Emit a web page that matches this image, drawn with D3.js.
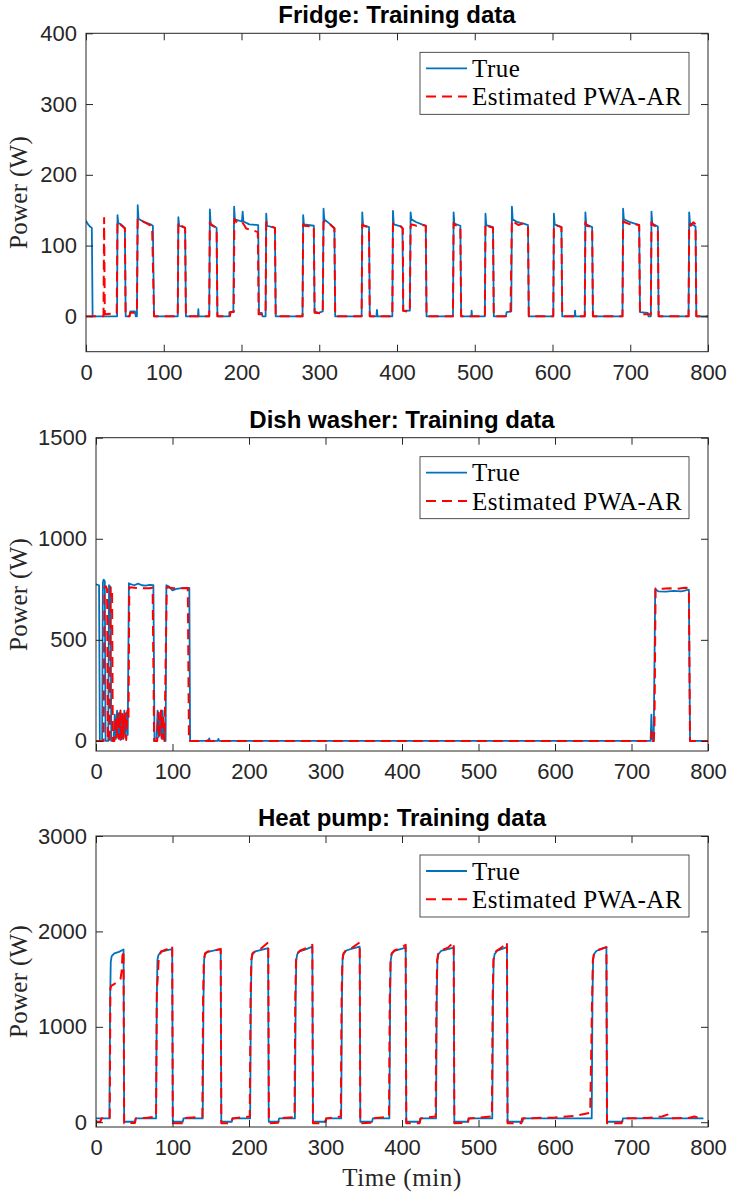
<!DOCTYPE html>
<html>
<head>
<meta charset="utf-8">
<script src="https://cdn.jsdelivr.net/npm/d3@7"></script>
<style>
  body { margin: 0; background: #fff; }
  .tick text { font-family: "Liberation Sans", Arial, Helvetica, sans-serif; font-size: 22px; fill: #262626; }
  .tick line { stroke: #262626; stroke-width: 1; }
</style>
</head>
<body>
<svg id="fig" width="729" height="1195"></svg>
<script>
// ---------- shared axis values ----------
const timeTicks = [0, 100, 200, 300, 400, 500, 600, 700, 800];
const fridgeTicks = [0, 100, 200, 300, 400];
const dishTicks = [0, 500, 1000, 1500];
const heatTicks = [0, 1000, 2000, 3000];
const seriesNames = ["True", "Estimated PWA-AR"];

// ---------- Fridge: [time (min), power (W)] ----------
const fridgeTrue = [
  [0,135],[2,131],[5,127],[7.5,125],[8.5,0],[40,0],[40.5,143],[41.5,132],[45,130],[50,125],[51,0],
  [56,0],[57,7],[63,7],[64,0],[65.5,0],[66.5,157],[67.5,138],[75,133],[83,130],[86,128],[87.5,0],
  [118,0],[118.8,140],[119.8,128],[127.5,125],[128.5,0],[144,0],[144.5,10],[145,0],
  [158.5,0],[159.3,151],[160.3,131],[168,125],[169,0],[184,0],[184.5,6],[189.5,6],
  [190.5,155],[191.5,137],[200.5,134],[201.5,148],[202.5,134],[210,130],[221.5,129],[222.5,5],[226,5],[227,0],
  [231,0],[231.8,145],[232.8,128],[243,125],[244,0],
  [278.5,0],[279.3,143],[280.3,130],[293,128],[294,7],[299,5],[304.5,7],[305.5,152],[306.5,137],[312,132],[319.5,125],[320.5,0],
  [354.5,0],[355.3,147],[356.3,129],[364,126],[365,0],[373.5,0],[374.2,9],[375,0],
  [394,0],[394.8,149],[395.8,130],[405,127],[407,125],[408,8],[416.5,8],[417.5,147],[418.5,137],[425,133],[432,130],[437,128],[438,0],
  [472,0],[472.8,147],[473.8,131],[481.5,128],[482.5,0],[495.5,0],[496,8],[496.5,0],
  [513,0],[513.8,145],[514.8,129],[523.5,126],[524.5,0],
  [540,0],[541,6],[547,7],[547.8,155],[548.8,137],[555,133],[563,131],[568.5,129],[569.5,0],
  [601,0],[601.8,145],[602.8,130],[611.5,126],[612.5,0],[628.5,0],[629,8],[629.5,0],
  [641.5,0],[642.3,147],[643.3,130],[651,126],[652,0],
  [690,0],[690.8,152],[691.8,137],[700,133],[711.5,129],[712.5,6],[722.5,5],[723.5,0],
  [726.5,0],[727.3,148],[728.3,131],[735.5,127],[736.5,0],
  [775,0],[775.8,147],[776.8,132],[784,127],[785,0],[800,0]
];
const fridgeEst = [
  [0,0],[22.5,0],[23.3,139],[24.2,3],[39.5,4],[40.5,134],[42,132],[46,128],[50,124],[51,0],
  [56,0],[57,5],[65.5,5],[66.5,139],[75,133],[85,127],[87.5,0],
  [118,0],[118.8,133],[120,130],[127.5,125],[128.5,0],
  [158.5,0],[159.3,133],[161,129],[168,125],[169,0],
  [185,0],[186,6],[190,6],[190.8,138],[193,134],[199,131],[201,133],[204,128],[206,124],[214,122],[221,119],[222,3],[231,3],
  [231.8,133],[233.5,129],[243,125],[244,0],
  [278.5,0],[279.3,130],[281,128],[293,127],[294,5],[304.5,4],[305.5,133],[308,135],[312,132],[319.5,124],[320.5,0],
  [354.5,0],[355.3,130],[357,128],[364,126],[365,0],
  [394,0],[394.8,131],[397,129],[405,127],[407.5,124],[408,8],[416.5,6],[417.5,127],[419,130],[425,128],[430,130],[437,128],[438,0],
  [472,0],[472.8,132],[475,129],[481.5,127],[482.5,0],
  [513,0],[513.8,131],[516,128],[523.5,125],[524.5,0],
  [540,0],[541,5],[546,7],[547.8,136],[552,132],[556,129],[562,131],[568.5,128],[569.5,0],
  [601,0],[601.8,129],[604,129],[611.5,126],[612.5,0],
  [641.5,0],[642.3,133],[644,128],[651,126],[652,0],
  [690,0],[690.8,134],[693,133],[700,130],[702,128],[705,130],[711.5,129],[712.5,3],[726.5,3],
  [727.3,133],[729,129],[735.5,126],[736.5,0],
  [775,0],[775.8,131],[778,128],[781,133],[784,130],[785,0],[800,0]
];

// ---------- Dish washer ----------
const dishTrue = [
  [0,775],[4,770],[5,0],[8,0],[9,785],[10,798],[11.5,790],[12.5,0],[16,0],[17,770],[19,760],[20,0],
  [23,0],[24.5,130],[26,10],[27.5,150],[29,15],[30.5,140],[32,5],[34,135],[35.5,10],[37,150],[38.5,20],[40,140],[41.5,30],
  [43,780],[45,775],[50,770],[55,778],[60,770],[65,768],[70,772],[75,770],[76.5,0],
  [79,0],[80.5,150],[82,20],[84,140],[85.5,15],[87,150],[88.5,10],[91,0],
  [92,770],[95,765],[100,745],[105,752],[115,757],[122,757],[123,0],
  [147,0],[148,12],[149,0],[159,0],[160,10],[161,0],
  [725,0],[726,130],[727,10],[729,0],[731,750],[735,740],[745,738],[755,742],[765,740],[775,748],[776.5,0],[800,0]
];
const dishEst = [
  [0,0],[10,0],[11,760],[13,765],[14.5,750],[15.5,0],[18,0],[19,760],[21,755],[22,0],
  [24,0],[26,120],[27,20],[29,140],[30,10],[32,150],[33,0],[35,130],[36,15],[38,140],[39.5,5],[41,150],[42.5,100],
  [43.5,760],[50,758],[60,755],[70,755],[74,758],[76,0],
  [80,0],[81.5,140],[83,10],[85,150],[86.5,10],[88,130],[89.5,0],
  [92.5,760],[100,756],[110,755],[120,757],[121.5,0],[145,0],[146,3],[147,0],
  [725,0],[726.5,45],[727.5,0],[729,0],[730,60],[731.5,755],[740,753],[750,755],[760,752],[770,758],[775,755],[776.5,0],[800,0]
];

// ---------- Heat pump ----------
const heatTrue = [
  [0,40],[17.5,40],[18.5,1300],[19.3,1680],[20.5,1740],[24,1770],[30,1785],[36,1810],[36.8,5],
  [51,5],[51.8,40],[78.5,40],[79.5,1300],[80.3,1700],[81.5,1750],[85,1785],[92,1800],[99.6,1815],[100.4,5],
  [113.5,5],[114.3,40],[139.5,40],[140.5,1300],[141.3,1700],[142.5,1760],[146,1785],[155,1800],[163,1815],[163.8,5],
  [177.5,5],[178.3,40],[201.5,40],[202.5,1300],[203.3,1700],[204.5,1760],[208,1790],[215,1805],[225,1825],[225.8,5],
  [238.5,5],[239.3,40],[260,40],[261,1300],[261.8,1700],[263,1760],[266,1790],[275,1815],[282.8,1840],[283.6,5],
  [300,5],[300.8,40],[320.5,40],[321.5,1300],[322.3,1700],[323.5,1760],[327,1800],[335,1820],[344.7,1840],[345.5,5],
  [361,5],[361.8,40],[383.5,40],[384.5,1300],[385.3,1700],[386.5,1760],[390,1795],[398,1815],[404.8,1830],[405.6,5],
  [423,5],[423.8,40],[444.5,40],[445.5,1300],[446.3,1700],[447.5,1760],[451,1795],[460,1815],[467.6,1830],[468.4,5],
  [486,5],[486.8,40],[518,40],[519,1300],[519.8,1700],[521,1760],[524,1795],[530,1815],[537.2,1835],[538,5],
  [557.5,5],[558.3,40],[648,40],[649,1300],[649.8,1700],[651,1760],[654,1795],[660,1815],[667.2,1835],[668,5],
  [688,5],[688.8,40],[794,40]
];
const heatEst = [
  [0,5],[6,5],[6.8,40],[18,45],[18.8,1400],[20,1430],[26,1460],[32,1500],[33.5,1580],[34.5,1740],[36,1800],[36.8,-10],
  [50,-8],[51,-5],[52,40],[65,45],[78.5,60],[79.5,1400],[80.5,1480],[82,1720],[85,1790],[92,1810],[99.6,1845],[100.4,-10],
  [113,-10],[116,30],[117,45],[139,55],[140,1300],[141,1700],[142.5,1770],[146,1790],[155,1800],[163,1815],[163.8,-10],
  [177,-10],[178.5,40],[201,60],[202,1300],[203,1700],[204.5,1770],[208,1790],[215,1815],[225.2,1885],[226,-10],
  [238,-5],[240,40],[259.5,55],[260.5,1300],[261.5,1700],[263,1770],[267,1800],[275,1825],[282.8,1860],[283.6,-10],
  [299,-10],[301,40],[320,60],[321,1300],[322,1700],[323.5,1770],[327,1805],[335,1830],[344.7,1885],[345.5,-10],
  [361,-5],[362.5,40],[383,60],[384,1300],[385,1700],[386.5,1770],[390,1800],[398,1825],[404.8,1860],[405.6,-10],
  [423,-10],[424.5,40],[444,60],[445,1300],[446,1700],[447.5,1770],[451,1800],[460,1830],[467.6,1885],[468.4,-10],
  [486,-8],[487.5,40],[517.5,60],[518.5,1300],[519.5,1700],[521,1770],[524,1800],[530,1830],[537.2,1885],[538,-10],
  [556,-10],[557,40],[600,50],[625,65],[643,95],[646,100],[648.5,1300],[649.5,1700],[651,1770],[654,1800],[660,1815],[667.2,1835],[668,-10],
  [687,-10],[689,40],[720,45],[740,60],[747,80],[749,42],[775,45],[782,60],[788,45],[794,45]
];

// ---------- figure ----------
const svg = d3.select("#fig");
const axisColor = "#262626";
const trueColor = "#0072BD";
const estColor = "#FF0000";
const dash = "10,6";
const rightEdge = 708;
const serif = "'Liberation Serif', 'Times New Roman', serif";

const panels = [
  { title: "Fridge: Training data", left: 86, top: 33.3, bottom: 351.7, yDomain: [-50, 400], yTicks: fridgeTicks, truth: fridgeTrue, est: fridgeEst },
  { title: "Dish washer: Training data", left: 96, top: 437.7, bottom: 751, yDomain: [-50, 1500], yTicks: dishTicks, truth: dishTrue, est: dishEst },
  { title: "Heat pump: Training data", left: 96, top: 836, bottom: 1127, yDomain: [-50, 3000], yTicks: heatTicks, truth: heatTrue, est: heatEst }
];

panels.forEach((p, i) => {
  const x = d3.scaleLinear().domain([0, 800]).range([p.left, rightEdge]);
  const y = d3.scaleLinear().domain(p.yDomain).range([p.bottom, p.top]);
  const g = svg.append("g");

  const clipId = "clip" + i;
  svg.append("clipPath").attr("id", clipId).append("rect")
    .attr("x", p.left).attr("y", p.top).attr("width", rightEdge - p.left).attr("height", p.bottom - p.top);

  const line = d3.line().x(d => x(d[0])).y(d => y(d[1]));
  const plot = g.append("g").attr("clip-path", `url(#${clipId})`);
  plot.append("path").datum(p.truth).attr("d", line)
    .attr("fill", "none").attr("stroke", trueColor).attr("stroke-width", 1.8).attr("stroke-linejoin", "round");
  plot.append("path").datum(p.est).attr("d", line)
    .attr("fill", "none").attr("stroke", estColor).attr("stroke-width", 2).attr("stroke-dasharray", dash).attr("stroke-linejoin", "round");

  // axes with inward ticks on all four sides
  const ax = (axis, tr, labels) => {
    const a = g.append("g").attr("transform", tr).call(axis);
    a.select(".domain").remove();
    if (!labels) a.selectAll("text").remove();
    return a;
  };
  ax(d3.axisBottom(x).tickValues(timeTicks).tickSizeInner(-7).tickSizeOuter(0).tickPadding(12.5).tickFormat(d3.format("d")), `translate(0,${p.bottom})`, true);
  ax(d3.axisTop(x).tickValues(timeTicks).tickSizeInner(-7).tickSizeOuter(0), `translate(0,${p.top})`, false);
  ax(d3.axisLeft(y).tickValues(p.yTicks).tickSizeInner(-7).tickSizeOuter(0).tickPadding(9).tickFormat(d3.format("d")), `translate(${p.left},0)`, true);
  ax(d3.axisRight(y).tickValues(p.yTicks).tickSizeInner(-7).tickSizeOuter(0), `translate(${rightEdge},0)`, false);

  g.append("rect").attr("x", p.left).attr("y", p.top).attr("width", rightEdge - p.left).attr("height", p.bottom - p.top)
    .attr("fill", "none").attr("stroke", axisColor).attr("stroke-width", 1);

  // title
  g.append("text").attr("x", (p.left + rightEdge) / 2).attr("y", p.top - 10)
    .attr("text-anchor", "middle").attr("font-family", "'Liberation Sans', Arial, sans-serif")
    .attr("font-weight", "bold").attr("font-size", 24).attr("fill", "#000").text(p.title);

  // y label
  g.append("text").attr("transform", `translate(27,${(p.top + p.bottom) / 2}) rotate(-90)`)
    .attr("text-anchor", "middle").attr("font-family", serif).attr("letter-spacing", 0.3)
    .attr("font-size", 25).attr("fill", axisColor).text("Power (W)");

  // legend
  const lx = 420, ly = p.top + 19, lw = 269, lh = 62;
  const leg = g.append("g");
  leg.append("rect").attr("x", lx).attr("y", ly).attr("width", lw).attr("height", lh)
    .attr("fill", "#fff").attr("stroke", axisColor).attr("stroke-width", 0.8);
  [[trueColor, null, 1.8], [estColor, dash, 2]].forEach((s, k) => {
    const cy = ly + 16 + k * 28.3;
    leg.append("line").attr("x1", lx + 6).attr("x2", lx + 47).attr("y1", cy).attr("y2", cy)
      .attr("stroke", s[0]).attr("stroke-width", s[2]).attr("stroke-dasharray", s[1]);
    leg.append("text").attr("x", lx + 52).attr("y", cy + 8.5)
      .attr("font-family", serif).attr("font-size", 25).attr("letter-spacing", 0.5)
      .attr("fill", "#000").text(seriesNames[k]);
  });
});

// shared x label
svg.append("text").attr("x", 402).attr("y", 1186).attr("text-anchor", "middle")
  .attr("font-family", serif).attr("font-size", 25).attr("letter-spacing", 0.6)
  .attr("fill", axisColor).text("Time (min)");
</script>
</body>
</html>
